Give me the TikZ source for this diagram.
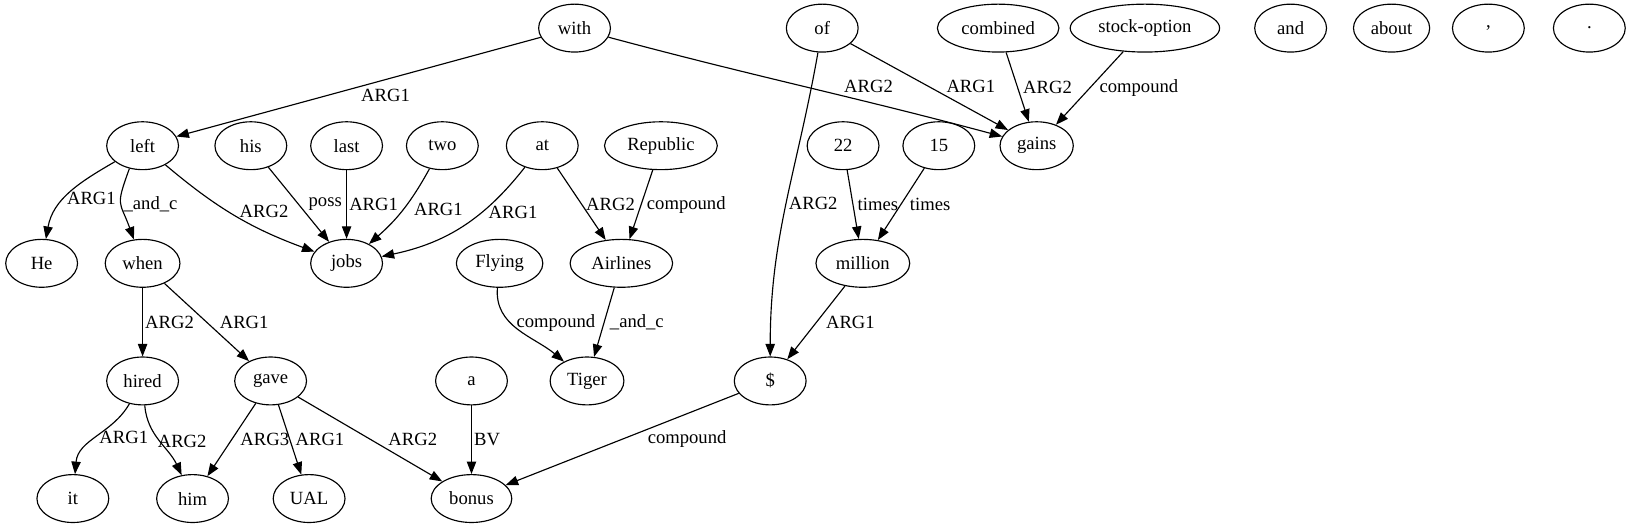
\documentclass[tikz,border=0pt]{standalone}
\usepackage{fontspec}
\setmainfont{Liberation Serif}
\usetikzlibrary{arrows.meta,shapes.geometric}

\begin{document}
\begin{tikzpicture}[x=1pt,y=1pt,->,>={Triangle[length=12pt,width=9pt]},node distance=113pt,
  line width=1.1pt,
  word node/.style={ellipse,draw,minimum width=69pt,minimum height=46pt,inner xsep=6pt,inner ysep=2pt,font=\fontsize{17.9}{20}\selectfont},
  rel label/.style={font=\fontsize{17.9}{20}\selectfont,inner sep=2pt}]

  \useasboundingbox (0,0) rectangle (1568,-507);

  % top row
  \node[word node] (with) at (552,-27) {with};
  \node[word node] (of) at (790,-27) {of};
  \node[word node] (combined) at (959,-27) {combined};
  \node[word node] (stockopt) at (1100,-27) {stock-option};
  \node[word node] (and) at (1240,-27) {and};
  \node[word node] (about) at (1337,-27) {about};
  \node[word node] (comma) at (1430,-27) {,};
  \node[word node] (period) at (1527,-27) {.};

  \node[word node] (left) at (137,-140) {left};
  \node[word node] (his) at (241,-140) {his};
  \node[word node] (last) at (333,-140) {last};
  \node[word node] (two) at (425,-140) {two};
  \node[word node] (at) at (521,-140) {at};
  \node[word node] (republic) at (635,-140) {Republic};
  \node[word node] (n22) at (810,-140) {22};
  \node[word node] (n15) at (902,-140) {15};
  \node[word node] (gains) at (996,-140) {gains};

  \node[word node] (he) at (40,-253) {He};
  \node[word node] (when) [below of=left] {when};
  \node[word node] (jobs) [below of=last] {jobs};
  \node[word node] (flying) at (480,-253) {Flying};
  \node[word node] (airlines) at (597,-253) {Airlines};
  \node[word node] (million) at (829,-253) {million};

  \node[word node] (hired) [below of=when] {hired};
  \node[word node] (gave) at (260,-366) {gave};
  \node[word node] (a) at (453,-366) {a};
  \node[word node] (tiger) at (564,-366) {Tiger};
  \node[word node] (dollar) at (740,-366) {\$};

  \node[word node] (it) at (70,-479) {it};
  \node[word node] (him) at (185,-479) {him};
  \node[word node] (ual) at (297,-479) {UAL};
  \node[word node] (bonus) [below of=a] {bonus};

  \path
    (with) edge node[rel label, anchor=north west, pos=0.5] {ARG1} (left)
           edge[out=-15, in=165] node[rel label, anchor=south west, pos=0.6] {ARG2} (gains)
    (of) edge node[rel label, right, xshift=14pt] {ARG1} (gains)
         edge[out=-100, in=90] node[rel label, right] {ARG2} (dollar)
    (combined) edge node[rel label, right, xshift=3pt] {ARG2} (gains)
    (stockopt) edge node[rel label, right, xshift=7pt] {compound} (gains)
    (left) edge[out=-150, in=80] node[rel label, right, pos=0.58] {ARG1} (he)
           edge[bend right=10] node[rel label, right, pos=0.45, xshift=8pt] {ARG2} (jobs)
    (left.-120) edge[out=-110, in=110, looseness=1.5] node[rel label, right] {\_and\_c} (when.110)
    (his) edge node[rel label, right, xshift=7pt] {poss} (jobs)
    (last) edge node[rel label, right] {ARG1} (jobs)
    (two) edge[bend left=10] node[rel label, right, xshift=8pt] {ARG1} (jobs)
    (at) edge[bend left=20] node[rel label, right, pos=0.35, xshift=4pt] {ARG1} (jobs)
         edge node[rel label, right, xshift=2pt] {ARG2} (airlines)
    (republic) edge node[rel label, right, xshift=3pt] {compound} (airlines)
    (n22) edge node[rel label, right, xshift=2pt] {times} (million)
    (n15) edge node[rel label, right, xshift=6pt] {times} (million)
    (when) edge node[rel label, right] {ARG2} (hired)
           edge node[rel label, right, xshift=10pt] {ARG1} (gave)
    (flying) edge[out=-95, in=140] node[rel label, right, pos=0.4, xshift=3pt] {compound} (tiger)
    (airlines) edge node[rel label, right, xshift=3pt] {\_and\_c} (tiger)
    (million) edge node[rel label, right, xshift=7pt] {ARG1} (dollar)
    (hired) edge[out=-120, in=85] node[rel label, right] {ARG1} (it)
            edge[out=-85, in=115] node[rel label, right, xshift=-4pt] {ARG2} (him)
    (gave) edge node[rel label, right, xshift=6pt] {ARG3} (him)
           edge node[rel label, right, xshift=3pt] {ARG1} (ual)
           edge node[rel label, right, xshift=15pt] {ARG2} (bonus)
    (a) edge node[rel label, right] {BV} (bonus)
    (dollar) edge node[rel label, right, xshift=22pt] {compound} (bonus)
    ;
\end{tikzpicture}
\end{document}
